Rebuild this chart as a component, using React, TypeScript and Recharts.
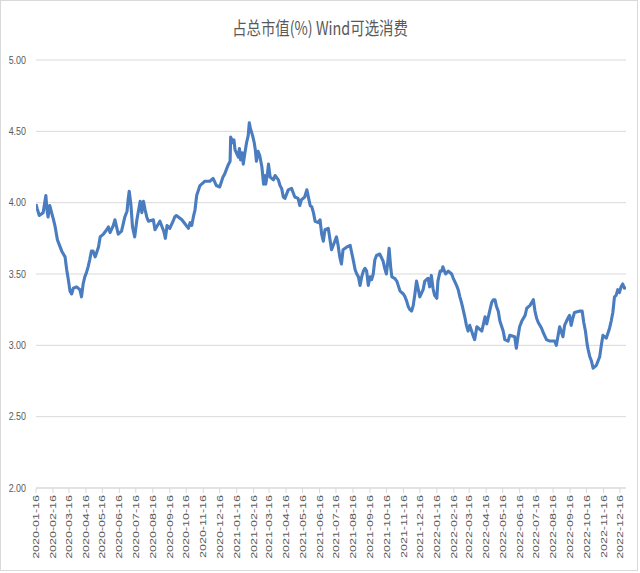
import React from "react";
import { LineChart, Line, XAxis, YAxis, CartesianGrid } from "recharts";

const title = "占总市值(%) Wind可选消费";

const dates = [
  "2020-01-16","2020-01-18","2020-01-22","2020-01-29","2020-02-03","2020-02-05","2020-02-07","2020-02-10","2020-02-17","2020-02-20",
  "2020-02-24","2020-02-26","2020-03-03","2020-03-09","2020-03-12","2020-03-15","2020-03-18","2020-03-21","2020-03-24","2020-03-30",
  "2020-04-05","2020-04-08","2020-04-11","2020-04-14","2020-04-17","2020-04-20","2020-04-23","2020-04-26","2020-04-29","2020-05-03",
  "2020-05-09","2020-05-12","2020-05-18","2020-05-24","2020-05-27","2020-05-30","2020-06-05","2020-06-08","2020-06-14","2020-06-20",
  "2020-06-23","2020-06-26","2020-06-30","2020-07-02","2020-07-04","2020-07-07","2020-07-10","2020-07-14","2020-07-18","2020-07-24",
  "2020-07-27","2020-07-30","2020-08-02","2020-08-05","2020-08-08","2020-08-17","2020-08-20","2020-08-29","2020-09-05","2020-09-08",
  "2020-09-11","2020-09-16","2020-09-22","2020-09-25","2020-09-28","2020-10-08","2020-10-14","2020-10-20","2020-10-23","2020-10-26",
  "2020-10-29","2020-11-01","2020-11-04","2020-11-10","2020-11-13","2020-11-19","2020-11-28","2020-12-04","2020-12-10","2020-12-16",
  "2020-12-22","2020-12-25","2020-12-29","2020-12-31","2021-01-04","2021-01-05","2021-01-09","2021-01-11","2021-01-13","2021-01-19",
  "2021-01-21","2021-01-23","2021-01-26","2021-01-28","2021-01-31","2021-02-03","2021-02-06","2021-02-08","2021-02-10","2021-02-14",
  "2021-02-17","2021-02-19","2021-02-21","2021-02-24","2021-02-27","2021-03-03","2021-03-06","2021-03-09","2021-03-10","2021-03-13",
  "2021-03-15","2021-03-18","2021-03-24","2021-03-27","2021-04-02","2021-04-05","2021-04-08","2021-04-11","2021-04-14","2021-04-20",
  "2021-04-26","2021-05-02","2021-05-08","2021-05-11","2021-05-14","2021-05-20","2021-05-24","2021-05-30","2021-06-02","2021-06-05",
  "2021-06-08","2021-06-14","2021-06-17","2021-06-20","2021-06-23","2021-06-26","2021-07-02","2021-07-08","2021-07-14","2021-07-17",
  "2021-07-20","2021-07-23","2021-07-26","2021-07-29","2021-08-05","2021-08-11","2021-08-17","2021-08-20","2021-08-23","2021-08-26",
  "2021-08-29","2021-09-01","2021-09-04","2021-09-07","2021-09-10","2021-09-13","2021-09-16","2021-09-19","2021-09-22","2021-09-25",
  "2021-09-28","2021-10-04","2021-10-10","2021-10-13","2021-10-16","2021-10-19","2021-10-21","2021-10-24","2021-10-26","2021-10-31",
  "2021-11-04","2021-11-10","2021-11-16","2021-11-19","2021-11-22","2021-11-25","2021-11-28","2021-12-01","2021-12-04","2021-12-07",
  "2021-12-10","2021-12-16","2021-12-22","2021-12-25","2021-12-31","2022-01-03","2022-01-06","2022-01-09","2022-01-12","2022-01-16",
  "2022-01-18","2022-01-22","2022-01-25","2022-01-27","2022-02-01","2022-02-06","2022-02-12","2022-02-15","2022-02-21","2022-02-24",
  "2022-02-27","2022-03-02","2022-03-05","2022-03-08","2022-03-11","2022-03-14","2022-03-17","2022-03-23","2022-03-26","2022-03-30",
  "2022-04-08","2022-04-14","2022-04-17","2022-04-23","2022-04-26","2022-04-29","2022-05-02","2022-05-05","2022-05-08","2022-05-11",
  "2022-05-17","2022-05-20","2022-05-26","2022-05-29","2022-06-07","2022-06-10","2022-06-13","2022-06-16","2022-06-20","2022-06-26",
  "2022-06-29","2022-07-05","2022-07-11","2022-07-14","2022-07-17","2022-07-20","2022-07-26","2022-07-29","2022-08-04","2022-08-10",
  "2022-08-19","2022-08-22","2022-08-28","2022-09-03","2022-09-06","2022-09-12","2022-09-15","2022-09-18","2022-09-21","2022-09-24",
  "2022-10-04","2022-10-08","2022-10-11","2022-10-14","2022-10-17","2022-10-19","2022-10-22","2022-10-25","2022-10-28","2022-11-03",
  "2022-11-09","2022-11-12","2022-11-15","2022-11-21","2022-11-27","2022-11-30","2022-12-03","2022-12-06","2022-12-09","2022-12-12",
  "2022-12-15","2022-12-18","2022-12-21","2022-12-24","2022-12-27",
];

const shares = [
  3.99,3.96,3.91,3.93,4.05,3.95,3.90,3.98,3.88,3.83,
  3.74,3.72,3.66,3.62,3.53,3.46,3.38,3.36,3.40,3.41,
  3.39,3.34,3.43,3.48,3.51,3.55,3.60,3.66,3.66,3.62,
  3.69,3.76,3.78,3.81,3.83,3.79,3.84,3.88,3.78,3.80,
  3.85,3.90,3.94,4.02,4.08,3.99,3.83,3.76,3.88,4.01,
  3.93,4.01,3.95,3.90,3.87,3.88,3.81,3.87,3.80,3.75,
  3.84,3.82,3.87,3.90,3.91,3.88,3.85,3.82,3.86,3.84,
  3.90,3.95,4.05,4.12,4.13,4.15,4.15,4.17,4.12,4.11,
  4.18,4.20,4.24,4.26,4.29,4.46,4.42,4.44,4.37,4.32,
  4.38,4.30,4.35,4.27,4.35,4.42,4.47,4.56,4.52,4.47,
  4.42,4.37,4.29,4.36,4.33,4.25,4.13,4.19,4.13,4.20,
  4.27,4.18,4.16,4.19,4.16,4.12,4.10,4.04,4.03,4.09,
  4.10,4.04,4.03,3.98,4.02,4.04,4.09,3.98,3.97,3.93,
  3.87,3.86,3.88,3.78,3.73,3.81,3.82,3.67,3.73,3.76,
  3.70,3.62,3.57,3.67,3.69,3.70,3.59,3.53,3.50,3.48,
  3.42,3.48,3.52,3.54,3.52,3.42,3.48,3.46,3.50,3.60,
  3.63,3.64,3.59,3.54,3.50,3.60,3.68,3.54,3.48,3.47,
  3.45,3.38,3.36,3.34,3.31,3.27,3.25,3.24,3.28,3.36,
  3.45,3.34,3.39,3.45,3.47,3.41,3.49,3.40,3.35,3.33,
  3.45,3.52,3.52,3.55,3.50,3.52,3.50,3.47,3.42,3.39,
  3.34,3.30,3.25,3.20,3.14,3.10,3.14,3.07,3.04,3.13,
  3.10,3.20,3.15,3.25,3.30,3.32,3.32,3.27,3.24,3.17,
  3.10,3.04,3.03,3.07,3.06,2.98,3.06,3.13,3.17,3.21,
  3.26,3.28,3.32,3.24,3.19,3.16,3.12,3.09,3.04,3.03,
  3.03,3.00,3.13,3.06,3.14,3.19,3.21,3.14,3.19,3.23,
  3.24,3.24,3.16,3.10,3.01,2.97,2.92,2.89,2.84,2.86,
  2.92,3.00,3.07,3.05,3.12,3.17,3.23,3.34,3.35,3.39,
  3.37,3.41,3.43,3.40,3.41,
];

const tickDates = [
  "2020-01-16","2020-02-16","2020-03-16","2020-04-16","2020-05-16","2020-06-16","2020-07-16","2020-08-16","2020-09-16",
  "2020-10-16","2020-11-16","2020-12-16","2021-01-16","2021-02-16","2021-03-16","2021-04-16","2021-05-16","2021-06-16",
  "2021-07-16","2021-08-16","2021-09-16","2021-10-16","2021-11-16","2021-12-16","2022-01-16","2022-02-16","2022-03-16",
  "2022-04-16","2022-05-16","2022-06-16","2022-07-16","2022-08-16","2022-09-16","2022-10-16","2022-11-16","2022-12-16",
];

const yTicks = [2.0, 2.5, 3.0, 3.5, 4.0, 4.5, 5.0];

const toDay = (s: string) => {
  const [y, m, d] = s.split("-").map(Number);
  return Date.UTC(y, m - 1, d) / 86400000;
};

const data = dates.map((d, i) => ({ t: toDay(d), v: shares[i] }));
const xTicks = tickDates.map(toDay);
const labelByDay: Record<number, string> = {};
tickDates.forEach((d) => (labelByDay[toDay(d)] = d));

const TEXT = "#595959";
const GRID = "#d9d9d9";

const XTick = (props: any) => {
  const { x, y, payload } = props;
  return (
    <g transform={`translate(${x},${y})`}>
      <text
        transform="rotate(-90) scale(1,0.72)"
        x={0}
        y={0}
        dy="0.35em"
        textAnchor="end"
        fontSize={12.5}
        fill={TEXT}
        fontFamily="'Liberation Sans', Arial, sans-serif"
      >
        {labelByDay[payload.value]}
      </text>
    </g>
  );
};

const YTick = (props: any) => {
  const { x, y, payload } = props;
  return (
    <g transform={`translate(${x},${y}) scale(0.85,1)`}>
      <text
        x={0}
        y={0}
        dy="0.35em"
        textAnchor="end"
        fontSize={10.5}
        fill={TEXT}
        fontFamily="'Liberation Sans', Arial, sans-serif"
      >
        {Number(payload.value).toFixed(2)}
      </text>
    </g>
  );
};

export default function App() {
  return (
    <div style={{ position: "absolute", left: 0, top: 0, width: 640, height: 573, background: "#fff" }}>
      <div
        style={{
          position: "absolute",
          left: 0,
          top: 0,
          width: 638,
          height: 571,
          border: `1px solid ${GRID}`,
          boxSizing: "border-box",
        }}
      />
      <div
        style={{
          position: "absolute",
          left: 0,
          top: 18,
          width: 640,
          textAlign: "center",
          fontSize: 18,
          lineHeight: "18px",
          color: TEXT,
          fontFamily: "'Noto Sans CJK SC', sans-serif",
          transform: "scaleX(0.8)",
          transformOrigin: "320px 0",
        }}
      >
        {title}
      </div>
      <div style={{ position: "absolute", left: 0, top: 0 }}>
        <LineChart width={640} height={573} data={data} margin={{ top: 60, right: 14, left: 0, bottom: 5 }}>
          <CartesianGrid vertical={false} stroke={GRID} />
          <XAxis
            dataKey="t"
            type="number"
            domain={[toDay(dates[0]), toDay(dates[dates.length - 1])]}
            ticks={xTicks}
            interval={0}
            height={80}
            tickSize={5}
            tickMargin={2}
            axisLine={{ stroke: GRID }}
            tickLine={{ stroke: GRID }}
            tick={<XTick />}
            allowDataOverflow
          />
          <YAxis
            type="number"
            domain={[2, 5]}
            ticks={yTicks}
            width={36}
            axisLine={false}
            tickLine={false}
            tickSize={0}
            tickMargin={10}
            tick={<YTick />}
          />
          <Line
            type="linear"
            dataKey="v"
            stroke="#4A7CC0"
            strokeWidth={3.1}
            strokeLinejoin="round"
            dot={false}
            isAnimationActive={false}
          />
        </LineChart>
      </div>
    </div>
  );
}
